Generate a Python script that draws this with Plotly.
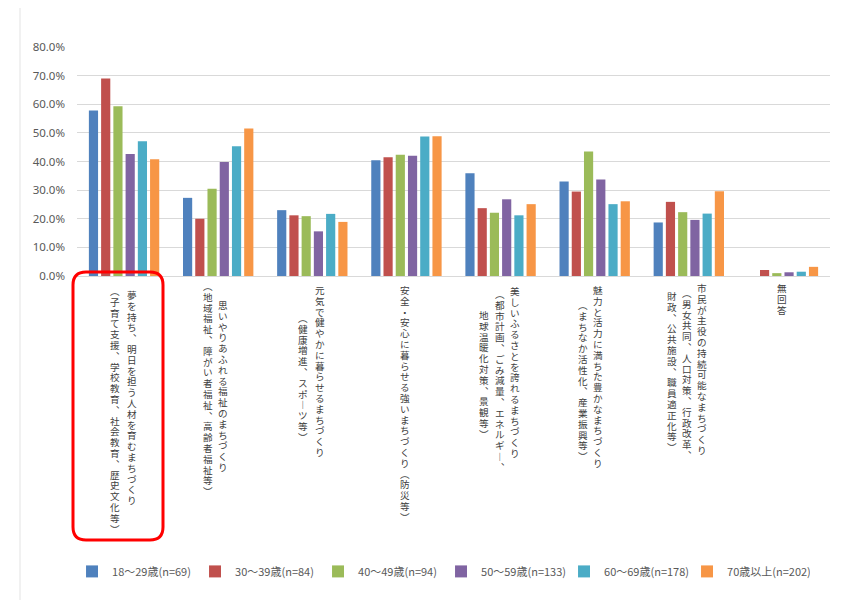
import plotly.graph_objects as go

# 年代別の回答割合(%)
label_columns = [
    ["夢を持ち、明日を担う人材を育むまちづくり", "（子育て支援、学校教育、社会教育、歴史文化等）"],
    ["思いやりあふれる福祉のまちづくり", "（地域福祉、障がい者福祉、高齢者福祉等）"],
    ["元気で健やかに暮らせるまちづくり", "（健康増進、スポーツ等）"],
    ["安全・安心に暮らせる強いまちづくり（防災等）"],
    ["美しいふるさとを誇れるまちづくり", "（都市計画、ごみ減量、エネルギー、", "地球温暖化対策、景観等）"],
    ["魅力と活力に満ちた豊かなまちづくり", "（まちなか活性化、産業振興等）"],
    ["市民が主役の持続可能なまちづくり", "（男女共同、人口対策、行政改革、", "財政、公共施設、職員適正化等）"],
    ["無回答"],
]
categories = ["".join(c) for c in label_columns]

age_groups = ["18～29歳(n=69)", "30～39歳(n=84)", "40～49歳(n=94)",
              "50～59歳(n=133)", "60～69歳(n=178)", "70歳以上(n=202)"]

v18_29 = [57.8, 27.3, 23.0, 40.4, 35.9, 33.0, 18.7, 0.0]
v30_39 = [69.0, 20.0, 21.2, 41.5, 23.7, 29.5, 25.9, 2.1]
v40_49 = [59.3, 30.5, 20.9, 42.4, 22.1, 43.5, 22.3, 1.0]
v50_59 = [42.6, 39.8, 15.6, 42.0, 26.8, 33.7, 19.6, 1.3]
v60_69 = [47.1, 45.3, 21.7, 48.7, 21.2, 25.1, 21.8, 1.5]
v70 = [40.8, 51.5, 18.9, 48.8, 25.1, 26.1, 29.6, 3.2]

series = [v18_29, v30_39, v40_49, v50_59, v60_69, v70]
colors = ["#4F81BD", "#C0504D", "#9BBB59", "#8064A2", "#4BACC6", "#F79646"]

fig = go.Figure()
for name, vals, col in zip(age_groups, series, colors):
    fig.add_trace(go.Bar(
        x=categories,
        y=[v / 100 for v in vals],
        name=name,
        marker=dict(color=col, line=dict(width=0)),
    ))

# 縦書きラベル: 列ごとに (中心からのpx, 軸からの開始px)
col_offsets = [
    [(8, 12), (-9, 8)],
    [(5, 22), (-10, 3)],
    [(8, 7), (-9, 35)],
    [(-1, 7)],
    [(14, 8), (-1, 11), (-17, 32)],
    [(3, 7), (-12, 22)],
    [(13, 5), (-2, 10), (-17, 13)],
    [(-1, 5)],
]
vert = {"（": "︵", "）": "︶", "、": "︑", "ー": "︱"}
pitch = 10.8

for cat, cols, offs in zip(categories, label_columns, col_offsets):
    for text, (dx, dy) in zip(cols, offs):
        stacked = "<br>".join(f'<span style="font-size:9.6px">{vert.get(ch, ch)}</span>' for ch in text)
        fig.add_annotation(
            x=cat, xref="x", y=0, yref="y",
            xanchor="center", yanchor="top",
            xshift=dx, yshift=-dy,
            text=stacked, showarrow=False, align="center",
            font=dict(family="Liberation Serif, Noto Sans CJK JP", size=pitch / 1.3, color="#404040"),
        )

# 外枠と赤枠 (プロット左下からのpx)
fig.add_shape(type="rect", xref="paper", yref="paper", xsizemode="pixel", ysizemode="pixel",
              xanchor=0, yanchor=0, x0=-57, x1=761, y0=270, y1=-340,
              line=dict(color="#E3E3E3", width=1))


def rounded(x0, y0, x1, y1, r):
    return (f"M{x0 + r},{y0} L{x1 - r},{y0} Q{x1},{y0} {x1},{y0 - r} "
            f"L{x1},{y1 + r} Q{x1},{y1} {x1 - r},{y1} L{x0 + r},{y1} "
            f"Q{x0},{y1} {x0},{y1 + r} L{x0},{y0 - r} Q{x0},{y0} {x0 + r},{y0} Z")


fig.add_shape(type="path", xref="paper", yref="paper", xsizemode="pixel", ysizemode="pixel",
              xanchor=0, yanchor=0, path=rounded(-4, 4, 86, -264, 13),
              line=dict(color="#FF0000", width=3))

fig.update_layout(
    width=833, height=592,
    margin=dict(l=69, r=11, t=39, b=324),
    plot_bgcolor="white", paper_bgcolor="white",
    barmode="group", bargap=0.22, bargroupgap=0.25,
    font=dict(family="Noto Sans CJK JP", color="#595959"),
    xaxis=dict(showticklabels=False, showline=True, linecolor="#D9D9D9", ticks=""),
    yaxis=dict(range=[0, 0.8], dtick=0.1, tickformat=".1%", gridcolor="#D9D9D9",
               zeroline=False, ticks="", ticklabelstandoff=11,
               tickfont=dict(family="Noto Sans", size=11.5, color="#595959")),
    legend=dict(orientation="h", x=-0.0066, xanchor="left", y=-1.29, yanchor="middle",
                font=dict(size=11, color="#595959"), itemwidth=30, entrywidth=78),
)

fig.write_html("out.html")
